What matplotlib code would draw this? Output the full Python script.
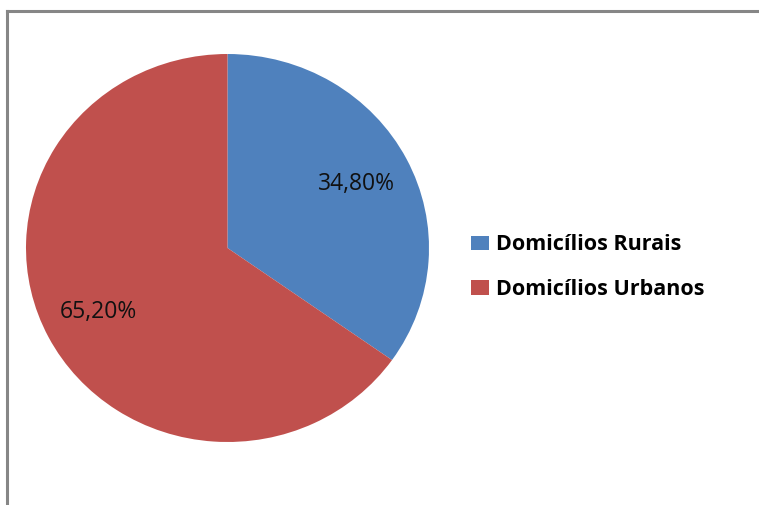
import matplotlib
matplotlib.use("Agg")
import matplotlib.pyplot as plt
from matplotlib.lines import Line2D

categories = ["Domicílios Rurais", "Domicílios Urbanos"]
values = [34.80, 65.20]
colors = ["#4F81BD", "#C0504D"]

W, H = 759, 505
fig = plt.figure(figsize=(W / 100, H / 100), dpi=100)
fig.patch.set_facecolor("white")

# chart-area frame (top and left edges visible)
fig.add_artist(Line2D([7 / W, 7 / W], [1 - 11 / H, 0], transform=fig.transFigure,
                      color="#868686", lw=2.2, solid_capstyle="projecting"))
fig.add_artist(Line2D([7 / W, 1], [1 - 11 / H, 1 - 11 / H], transform=fig.transFigure,
                      color="#868686", lw=2.2, solid_capstyle="projecting"))

# pie axes placed in pixel extents
x0, x1, y0, y1 = 26, 429, 54, 442
ax = fig.add_axes([x0 / W, 1 - y1 / H, (x1 - x0) / W, (y1 - y0) / H])
wedges, texts, autotexts = ax.pie(
    values, colors=colors, startangle=90, counterclock=False,
    autopct=lambda p: f"{p:.2f}%".replace(".", ","), pctdistance=0.72,
    wedgeprops=dict(linewidth=0),
    textprops=dict(fontsize=16.5, family="Open Sans", color="#111111"))
ax.set_aspect("auto")
ax.set_xlim(-1, 1)
ax.set_ylim(-1, 1)
ax.axis("off")

# legend
leg = fig.legend(wedges, categories, loc="upper left",
                 bbox_to_anchor=(452 / W, 1 - 215 / H), frameon=False,
                 prop=dict(family="Open Sans", weight="bold", size=15.5),
                 handlelength=0.8, handleheight=0.65, handletextpad=0.35,
                 labelspacing=1.1)

fig.savefig("out.png", dpi=100)
